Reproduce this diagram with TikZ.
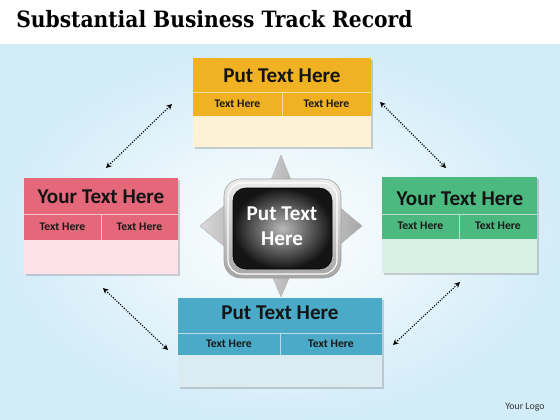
\documentclass[tikz,border=0pt]{standalone}
\usepackage{fontspec}
\setmainfont{Carlito}
\newfontfamily\titlefont{DejaVu Serif Condensed}
\usetikzlibrary{arrows.meta,shadows}

\definecolor{orangehd}{RGB}{240,177,35}
\definecolor{orangelt}{RGB}{253,242,214}
\definecolor{redhd}{RGB}{229,104,122}
\definecolor{redlt}{RGB}{252,226,232}
\definecolor{greenhd}{RGB}{76,186,128}
\definecolor{greenlt}{RGB}{217,240,228}
\definecolor{bluehd}{RGB}{74,170,200}
\definecolor{bluelt}{RGB}{218,236,242}
\definecolor{skybg}{RGB}{210,236,248}

\tikzset{
  head/.style={font=\bfseries\fontsize{15}{17}\selectfont, text=black!92, inner sep=0pt},
  sub/.style={font=\bfseries\fontsize{8.3}{10}\selectfont, text=black!90, inner sep=0pt},
  sep/.style={white, opacity=.6, line width=.5pt},
  link/.style={densely dotted, thick, {Stealth[length=4pt,width=4pt]}-{Stealth[length=4pt,width=4pt]}},
  boxshadow/.style={drop shadow={opacity=.35, shadow xshift=1.2pt, shadow yshift=-1.2pt}},
  spike/.style={left color=gray!30, right color=gray!70, draw=gray!60, line width=.3pt}
}

\begin{document}
\begin{tikzpicture}[x=0.025cm, y=-0.025cm]
\useasboundingbox (0,0) rectangle (560,420);
% background
\fill[white] (0,0) rectangle (560,45);
\shade[inner color=white, outer color=skybg] (0,45) rectangle (560,420);
\node[anchor=base west, font=\titlefont\bfseries\fontsize{16}{19}\selectfont, inner sep=0pt] (title) at (16,28) {Substantial Business Track Record};

% top box
\fill[orangelt, boxshadow] (193,58) rectangle (371,147);
\fill[orangehd] (193,58) rectangle (371,116);
\draw[sep] (193,92) -- (371,92) (282,92) -- (282,116);
\node[head] (topT) at (282,76) {Put Text Here};
\node[sub] (topA) at (237.5,104) {Text Here};
\node[sub] (topB) at (326.5,104) {Text Here};

% left box
\fill[redlt, boxshadow] (24,178) rectangle (178,274);
\fill[redhd] (24,178) rectangle (178,240);
\draw[sep] (24,214) -- (178,214) (101,214) -- (101,240);
\node[head] (leftT) at (101,197) {Your Text Here};
\node[sub] (leftA) at (62.5,227) {Text Here};
\node[sub] (leftB) at (139.5,227) {Text Here};

% right box
\fill[greenlt, boxshadow] (382,177) rectangle (537,273);
\fill[greenhd] (382,177) rectangle (537,239);
\draw[sep] (382,214) -- (537,214) (459,214) -- (459,239);
\node[head] (rightT) at (460,199) {Your Text Here};
\node[sub] (rightA) at (420.5,226) {Text Here};
\node[sub] (rightB) at (498,226) {Text Here};

% bottom box
\fill[bluelt, boxshadow] (178,298) rectangle (382,387);
\fill[bluehd] (178,298) rectangle (382,355);
\draw[sep] (178,333) -- (382,333) (280,333) -- (280,355);
\node[head] (botT) at (280,313) {Put Text Here};
\node[sub] (botA) at (229,344) {Text Here};
\node[sub] (botB) at (331,344) {Text Here};

% centre piece
\shade[spike] (281,155) -- (305,215) -- (257,215) -- cycle;
\shade[spike] (281,297) -- (305,240) -- (257,240) -- cycle;
\shade[spike] (200,226) -- (255,180) -- (255,272) -- cycle;
\shade[spike] (362,226) -- (307,180) -- (307,272) -- cycle;
\shade[rounded corners=12, top color=gray!15, bottom color=gray!70, draw=gray!75] (224,179) rectangle (341,278);
\draw[white, rounded corners=10, line width=.8pt] (228,183) rectangle (337,274);
\shade[rounded corners=9, inner color=gray!55, outer color=black!92, draw=black] (233,188) rectangle (332,269);
\node[font=\bfseries\fontsize{15}{18}\selectfont, text=white, align=center] (hub) at (282,226) {Put Text\\Here};

% links
\coordinate (tlA) at (106,168);
\coordinate (tlB) at (172,104);
\coordinate (trA) at (380,102);
\coordinate (trB) at (446,168);
\coordinate (blA) at (103,288);
\coordinate (blB) at (168,350);
\coordinate (brA) at (393,345);
\coordinate (brB) at (460,282);
\draw[link] (tlA) -- (tlB);
\draw[link] (trA) -- (trB);
\draw[link] (blA) -- (blB);
\draw[link] (brA) -- (brB);

\node[font=\fontsize{7}{8}\selectfont, text=black!80] (logo) at (525,407) {Your Logo};
\end{tikzpicture}
\end{document}
